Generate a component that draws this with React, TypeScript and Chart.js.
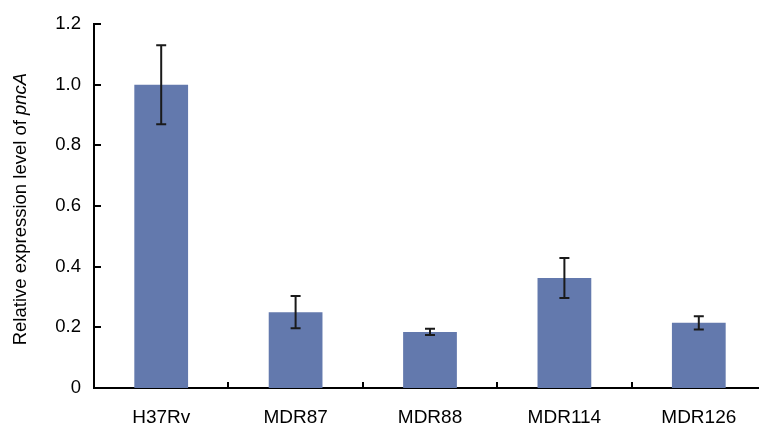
import React, { useEffect, useRef } from "react";
import { Chart, registerables } from "chart.js";

Chart.register(...registerables);

const categories = ["H37Rv", "MDR87", "MDR88", "MDR114", "MDR126"];
const means = [1.0, 0.25, 0.185, 0.363, 0.215];
const errors = [0.13, 0.053, 0.01, 0.066, 0.022];
const yTicks = [0, 0.2, 0.4, 0.6, 0.8, 1.0, 1.2];
const titleMain = "Relative expression level of ";
const titleItalic = "pncA";

const FONT = "'Liberation Sans', Arial, sans-serif";

const decorPlugin = {
  id: "decor",
  afterDatasetsDraw(chart: any) {
    const ctx = chart.ctx;
    const x = chart.scales.x;
    const y = chart.scales.y;
    const area = chart.chartArea;
    ctx.save();
    // error bars
    ctx.strokeStyle = "#1a1a1a";
    ctx.lineWidth = 2;
    const meta = chart.getDatasetMeta(0);
    means.forEach((m, i) => {
      const cx = meta.data[i].x;
      const yt = y.getPixelForValue(m + errors[i]);
      const yb = y.getPixelForValue(m - errors[i]);
      ctx.beginPath();
      ctx.moveTo(cx, yt);
      ctx.lineTo(cx, yb);
      ctx.moveTo(cx - 5, yt);
      ctx.lineTo(cx + 5, yt);
      ctx.moveTo(cx - 5, yb);
      ctx.lineTo(cx + 5, yb);
      ctx.stroke();
    });
    // inward y ticks
    ctx.strokeStyle = "#000";
    ctx.lineWidth = 2;
    yTicks.forEach((v) => {
      if (v === 0) return;
      const py = Math.round(y.getPixelForValue(v));
      ctx.beginPath();
      ctx.moveTo(area.left, py);
      ctx.lineTo(area.left + 7, py);
      ctx.stroke();
    });
    // inward x ticks at category boundaries
    for (let i = 1; i < categories.length; i++) {
      const px = Math.round((x.getPixelForValue(i - 1) + x.getPixelForValue(i)) / 2);
      ctx.beginPath();
      ctx.moveTo(px, area.bottom);
      ctx.lineTo(px, area.bottom - 6);
      ctx.stroke();
    }
    // y title with italic part
    ctx.fillStyle = "#000";
    ctx.textBaseline = "middle";
    ctx.font = `18.5px ${FONT}`;
    const w1 = ctx.measureText(titleMain).width;
    ctx.font = `italic 18.5px ${FONT}`;
    const w2 = ctx.measureText(titleItalic).width;
    const total = w1 + w2;
    const cy = (area.top + area.bottom) / 2 + 3;
    ctx.translate(21, cy);
    ctx.rotate(-Math.PI / 2);
    ctx.textAlign = "left";
    ctx.font = `18.5px ${FONT}`;
    ctx.fillText(titleMain, -total / 2, 0);
    ctx.font = `italic 18.5px ${FONT}`;
    ctx.fillText(titleItalic, -total / 2 + w1, 0);
    ctx.restore();
  },
};

export default function App() {
  const ref = useRef<HTMLCanvasElement | null>(null);
  useEffect(() => {
    if (!ref.current) return;
    const chart = new Chart(ref.current, {
      type: "bar",
      data: {
        labels: categories,
        datasets: [
          {
            data: means,
            backgroundColor: "#6379ad",
            borderWidth: 0,
            barPercentage: 0.4,
            categoryPercentage: 1,
          },
        ],
      },
      options: {
        responsive: false,
        animation: false,
        events: [],
        layout: { padding: { left: 0, right: 2, top: 21, bottom: 0 } },
        plugins: { legend: { display: false }, tooltip: { enabled: false }, title: { display: false } },
        scales: {
          x: {
            grid: { display: false, drawTicks: false },
            border: { display: true, color: "#000", width: 2 },
            ticks: { color: "#000", font: { family: FONT, size: 19 }, padding: 18, maxRotation: 0 },
            afterFit(scale: any) {
              scale.height = 35;
            },
          },
          y: {
            min: 0,
            max: 1.2,
            grid: { display: false, drawTicks: false },
            border: { display: true, color: "#000", width: 2 },
            ticks: {
              stepSize: 0.2,
              color: "#000",
              padding: 13,
              font: { family: FONT, size: 18.5 },
              callback: (v: any) => (Number(v) === 0 ? "0" : Number(v).toFixed(1)),
            },
            afterFit(scale: any) {
              scale.width = 94;
            },
          },
        },
      },
      plugins: [decorPlugin],
    });
    return () => chart.destroy();
  }, []);
  return (
    <div style={{ position: "fixed", left: 0, top: 0, width: 759, height: 423, overflow: "hidden", background: "#fff" }}>
      <canvas ref={ref} width={768} height={423} style={{ display: "block" }} />
    </div>
  );
}
